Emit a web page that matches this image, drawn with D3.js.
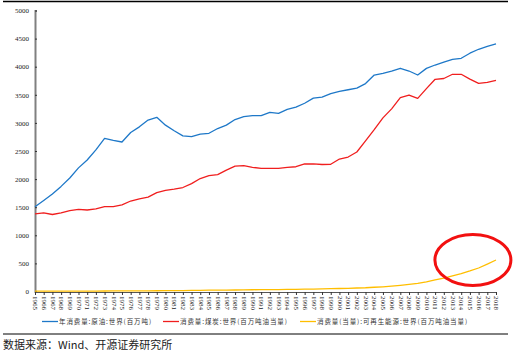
<!DOCTYPE html>
<html><head><meta charset="utf-8">
<script src="https://cdn.jsdelivr.net/npm/d3@7/dist/d3.min.js"></script>
<style>body{margin:0;background:#fff}svg{display:block}</style>
</head><body><svg id="c" width="525" height="358"></svg>
<script>
const years = d3.range(1965, 2019).map(String);
const oil = [1509,1620,1735,1870,2020,2200,2340,2520,2726,2690,2660,2830,2930,3050,3100,2960,2860,2770,2755,2800,2815,2900,2960,3060,3110,3130,3130,3188,3171,3240,3280,3350,3440,3460,3520,3560,3590,3620,3700,3852,3880,3920,3972,3923,3852,3970,4030,4080,4130,4150,4240,4310,4360,4404];
const coal = [1380,1400,1370,1400,1440,1460,1450,1470,1510,1510,1540,1610,1650,1680,1760,1800,1820,1850,1920,2010,2060,2080,2160,2230,2240,2210,2190,2190,2192,2210,2220,2269,2270,2260,2263,2357,2393,2482,2680,2880,3090,3250,3448,3496,3437,3610,3776,3790,3865,3865,3780,3704,3720,3758];
const renew = [5,5,6,6,7,7,8,8,9,10,10,11,11,12,13,14,15,17,19,21,24,25,26,27,30,31,33,34,35,37,39,41,44,47,50,53,56,62,67,76,84,95,109,125,143,170,205,240,280,318,366,418,487,560];
const yTicks = [0,500,1000,1500,2000,2500,3000,3500,4000,4500,5000];
const seriesNames = ["年消费量:原油:世界(百万吨)","消费量:煤炭:世界(百万吨油当量)","消费量(当量):可再生能源:世界(百万吨油当量)"];
const colors = ["#1E78C8","#F01E1E","#FFBE00"];
const source = "数据来源：Wind、开源证券研究所";

const svg = d3.select("#c");
const x = d3.scalePoint().domain(years).range([35, 496]);
const y = d3.scaleLinear().domain([0, 5000]).range([291.5, 10.5]);

// frame lines
svg.append("line").attr("x1",3).attr("x2",508).attr("y1",1.5).attr("y2",1.5).attr("stroke","#000").attr("stroke-width",1.5);
svg.append("line").attr("x1",3).attr("x2",508).attr("y1",334).attr("y2",334).attr("stroke","#000").attr("stroke-width",1);

// y axis
const ya = svg.append("g").attr("transform","translate(35,0)")
  .call(d3.axisRight(y).tickValues(yTicks).tickSize(2).tickFormat(d3.format("d")));
ya.select(".domain").attr("stroke","#808080").attr("stroke-width",2);
ya.selectAll(".tick line").attr("stroke","#333");
ya.selectAll(".tick text").attr("x",-6).attr("text-anchor","end")
  .style("font-family","'Liberation Serif','DejaVu Serif',serif").style("font-size","7px").attr("fill","#222");

// x axis
const xa = svg.append("g").attr("transform","translate(0,292)")
  .call(d3.axisBottom(x).tickSize(3));
xa.select(".domain").attr("stroke","#555").attr("stroke-width",1);
xa.selectAll(".tick line").attr("stroke","#333");
xa.selectAll(".tick text").attr("transform","rotate(90)").attr("x",4).attr("y",0).attr("dy","0.32em")
  .attr("text-anchor","start")
  .style("font-family","'Liberation Serif','DejaVu Serif',serif").style("font-size","7px").attr("fill","#222");

const line = d3.line().x((d,i)=>x(years[i])).y(d=>y(d));
[oil, coal, renew].forEach((s,k)=>{
  svg.append("path").datum(s).attr("d",line).attr("fill","none")
    .attr("stroke",colors[k]).attr("stroke-width",1.3).attr("stroke-linejoin","round");
});

// highlight ellipse
svg.append("ellipse").attr("cx",x("2015")+3).attr("cy",y(560)).attr("rx",38).attr("ry",25.5)
  .attr("fill","none").attr("stroke","#F21010").attr("stroke-width",3);

// legend
const lg = [[42,58],[163,179],[300,316]];
seriesNames.forEach((n,k)=>{
  svg.append("line").attr("x1",lg[k][0]).attr("x2",lg[k][1]).attr("y1",321.5).attr("y2",321.5)
    .attr("stroke",colors[k]).attr("stroke-width",1.3);
  svg.append("text").attr("x",lg[k][1]+1).attr("y",324).text(n)
    .style("font-family","'Noto Sans CJK SC',sans-serif").style("font-size","6.5px")
    .style("letter-spacing","0.9px").attr("fill","#333");
});

svg.append("text").attr("x",3).attr("y",349).text(source)
  .style("font-family","'Noto Sans CJK SC','Liberation Serif',serif").style("font-size","11px").attr("fill","#222");
</script></body></html>
